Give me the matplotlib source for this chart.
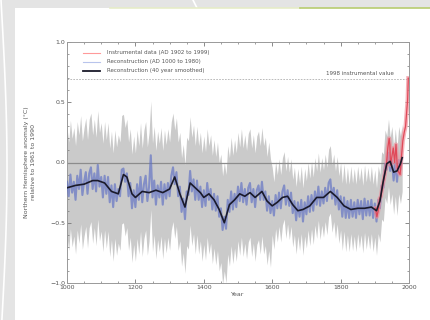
import matplotlib.pyplot as plt
import numpy as np
from matplotlib.patches import Rectangle

# 40-year smoothed reconstruction (black)
smooth_years = [1000, 1025, 1050, 1075, 1090, 1110, 1130, 1150, 1165, 1175, 1190, 1200,
                1220, 1240, 1260, 1280, 1300, 1315, 1330, 1345, 1360, 1375, 1390, 1400,
                1415, 1430, 1445, 1460, 1475, 1490, 1505, 1520, 1535, 1550, 1570, 1585,
                1600, 1615, 1630, 1645, 1660, 1675, 1690, 1710, 1730, 1750, 1770, 1790,
                1810, 1830, 1850, 1870, 1890, 1905, 1915, 1925, 1935, 1945, 1955, 1965,
                1975, 1980]
smooth_vals = [-0.21, -0.19, -0.18, -0.15, -0.15, -0.17, -0.24, -0.26, -0.10, -0.12, -0.26, -0.29,
               -0.24, -0.25, -0.23, -0.25, -0.22, -0.12, -0.26, -0.37, -0.17, -0.21, -0.25, -0.29,
               -0.26, -0.31, -0.39, -0.50, -0.35, -0.31, -0.26, -0.28, -0.25, -0.29, -0.24, -0.32,
               -0.36, -0.33, -0.29, -0.28, -0.35, -0.40, -0.39, -0.36, -0.29, -0.29, -0.24, -0.29,
               -0.36, -0.39, -0.38, -0.38, -0.37, -0.40, -0.32, -0.15, -0.01, 0.01, -0.08, -0.07,
               -0.01, 0.04]

# reconstruction AD 1000-1980 (blue), every 5 years
recon_start, recon_step = 1000, 5
recon_vals = [
    -0.16, -0.28, -0.10, -0.25, -0.16, -0.31, -0.11, -0.22, -0.06, -0.27,
    -0.16, -0.08, -0.26, -0.09, -0.04, -0.22, -0.09, -0.24, -0.02, -0.20,
    -0.12, -0.29, -0.11, -0.26, -0.12, -0.33, -0.19, -0.37, -0.18, -0.32,
    -0.22, -0.28, -0.06, -0.05, -0.16, -0.09, -0.28, -0.17, -0.38, -0.23,
    -0.37, -0.18, -0.31, -0.12, -0.33, -0.18, -0.11, -0.32, -0.20, 0.06,
    -0.29, -0.15, -0.35, -0.19, -0.29, -0.16, -0.35, -0.18, -0.30, -0.17,
    -0.28, -0.11, -0.04, -0.18, -0.08, -0.28, -0.20, -0.41, -0.30, -0.47,
    -0.24, -0.27, -0.07, -0.24, -0.14, -0.31, -0.15, -0.31, -0.20, -0.37,
    -0.23, -0.36, -0.17, -0.31, -0.22, -0.39, -0.26, -0.40, -0.28, -0.45,
    -0.38, -0.56, -0.45, -0.55, -0.31, -0.41, -0.24, -0.39, -0.26, -0.37,
    -0.20, -0.32, -0.17, -0.33, -0.22, -0.35, -0.21, -0.17, -0.33, -0.22,
    -0.37, -0.23, -0.19, -0.31, -0.16, -0.31, -0.24, -0.40, -0.28, -0.42,
    -0.32, -0.44, -0.27, -0.38, -0.25, -0.38, -0.24, -0.19, -0.35, -0.23,
    -0.36, -0.25, -0.42, -0.32, -0.48, -0.33, -0.45, -0.31, -0.49, -0.33,
    -0.43, -0.28, -0.41, -0.27, -0.40, -0.24, -0.35, -0.20, -0.36, -0.24,
    -0.34, -0.21, -0.32, -0.17, -0.14, -0.30, -0.21, -0.35, -0.23, -0.39,
    -0.28, -0.45, -0.29, -0.46, -0.32, -0.46, -0.31, -0.45, -0.33, -0.46,
    -0.31, -0.43, -0.32, -0.47, -0.30, -0.44, -0.32, -0.44, -0.31, -0.46,
    -0.34, -0.49, -0.31, -0.38, -0.19, -0.21, -0.01, -0.06, 0.08, -0.07,
    0.02, -0.15, 0.00, -0.16, 0.02, -0.06, 0.04,
]
# half-width of the grey uncertainty band
unc_edges = [1000, 1600, 1981]
unc_half = [0.45, 0.28]

# instrumental data AD 1902-1998 (red)
inst_years = [1902, 1906, 1910, 1914, 1918, 1922, 1926, 1930, 1934, 1938, 1942, 1944,
              1946, 1950, 1954, 1958, 1962, 1966, 1970, 1974, 1978, 1982, 1986, 1990,
              1994, 1996, 1998]
inst_vals = [-0.38, -0.45, -0.40, -0.30, -0.28, -0.20, -0.15, -0.08, -0.02, 0.12, 0.20, 0.15,
             -0.02, 0.05, 0.12, 0.00, 0.15, -0.05, -0.08, -0.10, 0.05, 0.18, 0.25, 0.30,
             0.45, 0.52, 0.70]
inst_1998 = 0.69

legend_labels = ['Instrumental data (AD 1902 to 1999)',
                 'Reconstruction (AD 1000 to 1980)',
                 'Reconstruction (40 year smoothed)']

recon_years = recon_start + recon_step * np.arange(len(recon_vals))
recon = np.array(recon_vals)
half = np.where(recon_years < unc_edges[1], unc_half[0], unc_half[1])

fig = plt.figure(figsize=(4.31, 3.2), dpi=100)
fig.patch.set_facecolor('#e4e4e4')
# slide background
fig.add_artist(Rectangle((15 / 431, 0), 1, 312 / 320, transform=fig.transFigure,
                         facecolor='white', edgecolor='none', zorder=0))
t = np.linspace(0, 1, 50)
fig.add_artist(plt.Line2D((1 + 6 * np.sin(np.pi * t)) / 431, 1 - t * 1.05, transform=fig.transFigure,
                          color='white', lw=1.2, zorder=1))
fig.add_artist(plt.Line2D([193 / 431, 197 / 431], [1, 312 / 320], transform=fig.transFigure,
                          color='white', lw=1.2, zorder=1))
fig.add_artist(plt.Line2D([110 / 431, 300 / 431], [312 / 320, 312 / 320], transform=fig.transFigure,
                          color='#e6ecc8', lw=1.2, zorder=1))
fig.add_artist(plt.Line2D([300 / 431, 1], [312 / 320, 312 / 320], transform=fig.transFigure,
                          color='#b8cc70', lw=1.2, zorder=1))

ax = fig.add_axes([67 / 431, 37 / 320, 342 / 431, 241 / 320])
ax.set_facecolor('white')

ax.fill_between(recon_years, recon - half, recon + half, color='#cacaca', lw=0, zorder=1)
ax.axhline(0, color='#8c8c8c', lw=0.9, zorder=2)
ax.axhline(inst_1998, color='#b0b0b0', lw=0.6, ls=(0, (2, 1.5)), zorder=2)
ax.plot(recon_years, recon, color='#5d6fc4', lw=1.5, alpha=0.65, zorder=3)
ax.plot(inst_years, inst_vals, color='#f08a96', lw=3, alpha=0.65, zorder=4)
ax.plot(inst_years, inst_vals, color='#e04858', lw=0.9, zorder=4)
ax.plot(smooth_years, smooth_vals, color='#1a1a2a', lw=1.2, zorder=5)

ax.text(1955, 0.715, '1998 instrumental value', fontsize=4, color='#555555',
        ha='right', va='bottom')

# legend drawn by hand in axes coords
for i, (lab, col, lw) in enumerate(zip(legend_labels, ['#ff9a9a', '#b8c4ec', '#1a1a2a'], [0.8, 0.8, 1.3])):
    yy = 0.955 - i * 0.037
    ax.plot([0.047, 0.097], [yy, yy], transform=ax.transAxes, color=col, lw=lw)
    ax.text(0.117, yy, lab, transform=ax.transAxes, fontsize=4, color='#555555', va='center')

ax.set_xlim(1000, 2000)
ax.set_ylim(-1.0, 1.0)
ax.set_xticks([1000, 1200, 1400, 1600, 1800, 2000])
ax.set_xticks(np.arange(1000, 2001, 50), minor=True)
ax.set_yticks([-1.0, -0.5, 0.0, 0.5, 1.0])
ax.set_yticklabels(['\u22121.0', '\u22120.5', '0.0', '0.5', '1.0'])
ax.set_yticks(np.arange(-1.0, 1.01, 0.1), minor=True)
ax.tick_params(which='both', direction='in', top=True, right=True, colors='#777777',
               labelsize=4.5, labelcolor='#555555', pad=1.5)
ax.tick_params(which='major', length=3, width=0.6)
ax.tick_params(which='minor', length=1.6, width=0.5)
for s in ax.spines.values():
    s.set_color('#999999')
    s.set_linewidth(0.7)

ax.set_xlabel('Year', fontsize=4.5, color='#555555', labelpad=1.5)
ax.set_ylabel('Northern Hemisphere anomaly (\u00b0C)\nrelative to 1961 to 1990', fontsize=4.5,
              color='#555555', labelpad=10, linespacing=1.6)

fig.savefig('out.png', dpi=100, facecolor=fig.get_facecolor())
